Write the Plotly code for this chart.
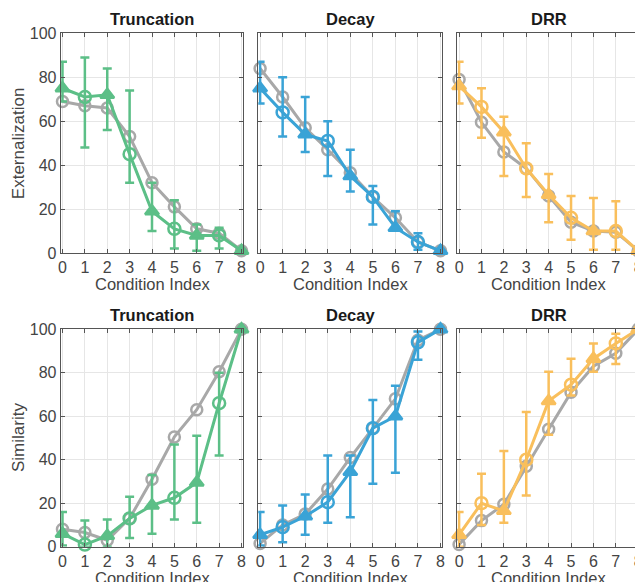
import plotly.graph_objs as go

# condition index on the x axis
idx = list(range(9))
x_ticks = [0, 1, 2, 3, 4, 5, 6, 7, 8]
y_ticks = [0, 20, 40, 60, 80, 100]

titles = ["Truncation", "Decay", "DRR"]
row_labels = ["Externalization", "Similarity"]

# Externalization (top row): grey reference, coloured median, upper/lower bounds
ext_trunc_ref = [69, 67, 66, 53, 32, 21, 11, 9, 1]
ext_trunc = [75, 71, 72, 45, 19, 11, 8, 8, 1]
ext_trunc_hi = [87, 89, 84, 74, 32, 24, 13, 11.5, 1]
ext_trunc_lo = [69, 48, 56, 32, 10, 2, 1, 2, 1]

ext_decay_ref = [84, 71, 57, 47, 36.5, 25.5, 16, 5, 1]
ext_decay = [75, 64, 54, 51, 35, 25.5, 11.5, 5, 1]
ext_decay_hi = [87, 80, 71, 60, 47, 30.5, 19, 9, 1]
ext_decay_lo = [68, 53, 46, 35, 28, 13, 10.5, 1.5, 1]

ext_drr_ref = [79, 59.5, 46, 38.5, 26, 14, 10, 9.5, 1]
ext_drr = [76, 66.5, 55, 38.5, 26.5, 16, 10, 10, 1]
ext_drr_hi = [87, 75, 62, 50, 36, 26, 25, 23.5, 1]
ext_drr_lo = [68, 52.5, 35, 25.5, 14, 6, 1.5, 1.5, 1]

# Similarity (bottom row)
sim_trunc_ref = [8, 6.5, 3, 13, 31, 50.5, 63, 80.5, 100]
sim_trunc = [6, 1, 5, 13, 19, 22.5, 29.5, 66, 100]
sim_trunc_hi = [16, 12, 12.5, 23, 33, 47, 51, 80, 100]
sim_trunc_lo = [0.5, 0, 0, 4, 6, 12.5, 11, 42, 100]

sim_decay_ref = [1.5, 10, 15, 26.5, 41, 54.5, 68, 95, 100]
sim_decay = [5.5, 9, 14, 20.5, 34.5, 54.5, 60, 94, 100]
sim_decay_hi = [16, 19, 24, 42, 42, 67.5, 74, 99, 100]
sim_decay_lo = [0.5, 2, 5.5, 11, 13.5, 29, 34, 86, 100]

sim_drr_ref = [1, 12, 19.5, 37, 54, 71, 83, 89, 100]
sim_drr = [5.5, 20, 16.5, 40, 67, 74.5, 86.5, 93.5, 100]
sim_drr_hi = [16, 33.5, 44, 62, 80.5, 86.5, 93.5, 98, 100]
sim_drr_lo = [0, 10, 11, 23.5, 51.5, 69.5, 80.5, 84, 100]

colors = ["#5cbf87", "#3aa3d6", "#f9bf5c"]
grey = "#a8a8a8"
font = "Liberation Sans, Arial, Helvetica, sans-serif"

panels = [
    (ext_trunc_ref, ext_trunc, ext_trunc_hi, ext_trunc_lo),
    (ext_decay_ref, ext_decay, ext_decay_hi, ext_decay_lo),
    (ext_drr_ref, ext_drr, ext_drr_hi, ext_drr_lo),
    (sim_trunc_ref, sim_trunc, sim_trunc_hi, sim_trunc_lo),
    (sim_decay_ref, sim_decay, sim_decay_hi, sim_decay_lo),
    (sim_drr_ref, sim_drr, sim_drr_hi, sim_drr_lo),
]

# panel placement in screen pixels; the page body adds an 8px offset
W, H = 643, 582
OFF = 8
x_dom_px = [(60.7, 243.3), (258.3, 442.3), (457.3, 640)]
y_dom_px = [(33.3, 253), (329.3, 546.7)]


def px_x(v):
    return (v - OFF) / W


def px_y(v):
    return 1 - (v - OFF) / H


# triangles on even indices, open circles on odd
symbols = ["triangle-up" if i % 2 == 0 else "circle-open" for i in idx]

fig = go.Figure()
layout = {}
annotations = []

for k, (ref, med, hi, lo) in enumerate(panels):
    row, col = divmod(k, 3)
    n = "" if k == 0 else str(k + 1)
    xa, ya = "x" + n, "y" + n
    c = colors[col]

    fig.add_trace(go.Scatter(
        x=idx, y=ref, xaxis=xa, yaxis=ya, mode="lines+markers",
        line=dict(color=grey, width=3),
        marker=dict(symbol="circle-open", size=11, color=grey,
                    line=dict(color=grey, width=2.5)),
        cliponaxis=False, showlegend=False,
    ))
    fig.add_trace(go.Scatter(
        x=idx, y=med, xaxis=xa, yaxis=ya, mode="lines+markers",
        line=dict(color=c, width=3),
        marker=dict(symbol=symbols, size=12, color=c,
                    line=dict(color=c, width=2.5)),
        error_y=dict(type="data", symmetric=False,
                     array=[h - m for h, m in zip(hi, med)],
                     arrayminus=[m - l for m, l in zip(med, lo)],
                     color=c, thickness=2.5, width=4.5),
        cliponaxis=False, showlegend=False,
    ))

    x0, x1 = x_dom_px[col]
    y0, y1 = y_dom_px[row]
    axis_style = dict(
        showline=True, linecolor="#555555", linewidth=1, mirror="ticks",
        ticks="inside", ticklen=4, tickcolor="#555555",
        showgrid=True, gridcolor="#e6e6e6", gridwidth=1, zeroline=False,
        automargin=False,
        tickfont=dict(family=font, size=16, color="#444444"),
    )
    layout["xaxis" + n] = dict(
        axis_style, domain=[px_x(x0), px_x(x1)], anchor=ya,
        range=[-0.08, 8.08], tickvals=x_ticks,
    )
    layout["yaxis" + n] = dict(
        axis_style, domain=[px_y(y1), px_y(y0)], anchor=xa,
        range=[0, 100], tickvals=y_ticks, showticklabels=(col == 0),
    )

    cx = px_x((x0 + x1) / 2)
    annotations.append(dict(
        text="<b>" + titles[col] + "</b>", x=cx, y=px_y(y0 - 14),
        xref="paper", yref="paper", showarrow=False,
        font=dict(family=font, size=16.5, color="#1a1a1a"),
        xanchor="center", yanchor="middle",
    ))
    annotations.append(dict(
        text="Condition Index", x=cx, y=px_y(y1 + 31),
        xref="paper", yref="paper", showarrow=False,
        font=dict(family=font, size=16.5, color="#444444"),
        xanchor="center", yanchor="middle",
    ))
    if col == 0:
        annotations.append(dict(
            text=row_labels[row], x=px_x(18), y=px_y((y0 + y1) / 2),
            xref="paper", yref="paper", showarrow=False, textangle=-90,
            font=dict(family=font, size=17, color="#444444"),
            xanchor="center", yanchor="middle",
        ))

fig.update_layout(
    width=W, height=H,
    margin=dict(l=0, r=0, t=0, b=0, autoexpand=False),
    paper_bgcolor="white", plot_bgcolor="white",
    annotations=annotations,
    **layout,
)

fig.write_html("out.html")
